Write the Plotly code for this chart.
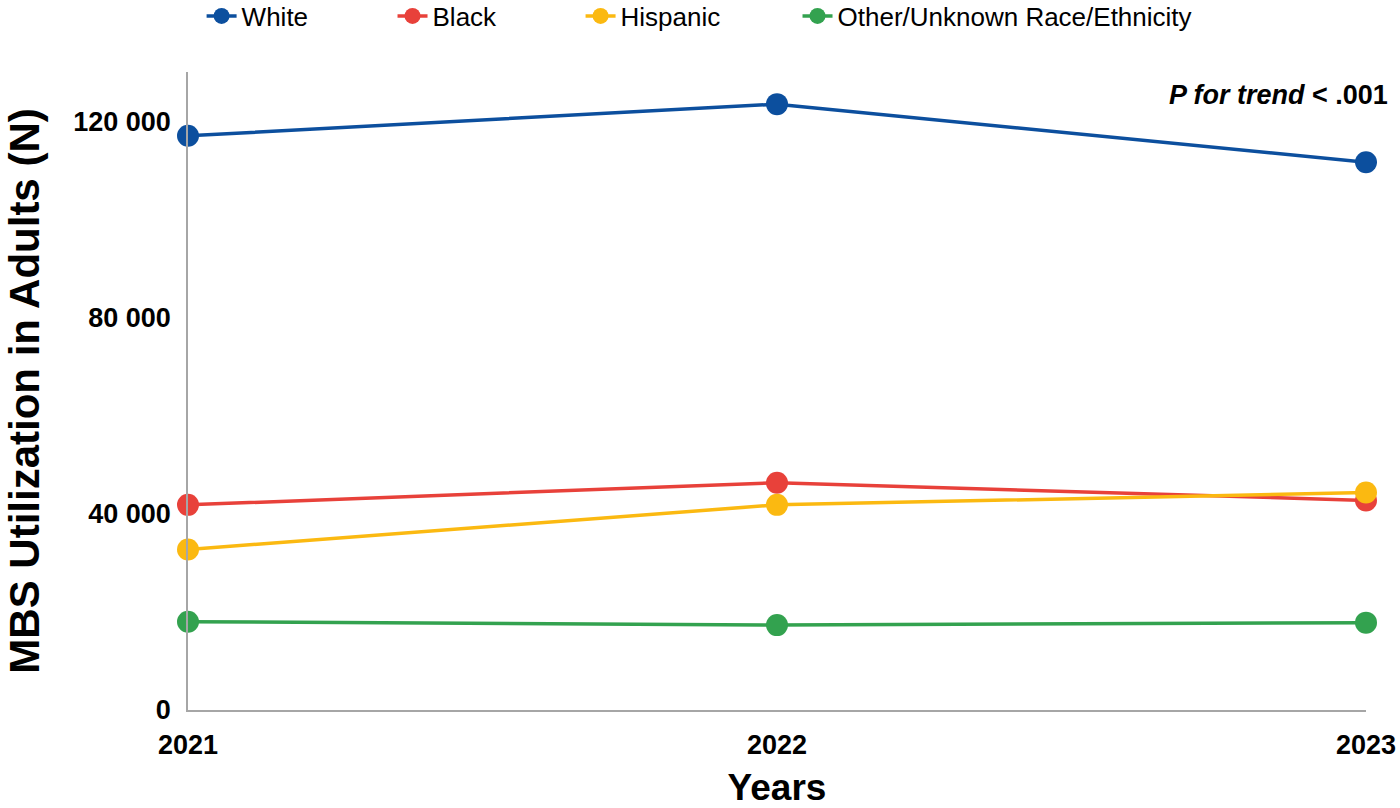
import plotly.graph_objects as go

years = [2021, 2022, 2023]
white = [117000, 123450, 111600]
black = [41800, 46300, 42700]
hispanic = [32700, 41800, 44300]
other = [18000, 17300, 17800]

series_names = ["White", "Black", "Hispanic", "Other/Unknown Race/Ethnicity"]
series_values = [white, black, hispanic, other]
series_colors = ["#0c4f9e", "#e8413a", "#fbb911", "#33a24f"]
legend_pad = [11, 11, 10, 0]  # invisible trailing spacing between legend entries

y_ticks = [0, 40000, 80000, 120000]

FONT = "Liberation Sans, Arial, sans-serif"

W, H = 1400, 808
L, R, T, B = 188, 34, 72, 98

fig = go.Figure()
for name, vals, col, pad in zip(series_names, series_values, series_colors, legend_pad):
    fig.add_trace(go.Scatter(
        x=years, y=vals, name=name + "\u00a0" * pad, mode="lines+markers",
        line=dict(color=col, width=3.5),
        marker=dict(color=col, size=22),
        cliponaxis=False,
    ))

fig.update_layout(
    width=W, height=H,
    paper_bgcolor="white", plot_bgcolor="white",
    margin=dict(l=L, r=R, t=T, b=B, autoexpand=False),
    separators=". ",
    font=dict(family=FONT, color="black"),
    showlegend=True,
    legend=dict(
        orientation="h", xref="container", yref="container",
        x=0.144, xanchor="left", y=1 - 16 / H, yanchor="middle",
        font=dict(size=26, family=FONT, color="black"),
        bgcolor="rgba(0,0,0,0)",
    ),
    xaxis=dict(
        range=[2021, 2023], tickvals=years, tickformat="d",
        showgrid=False, zeroline=False, automargin=False,
        showline=True, linecolor="#a6a6a6", linewidth=1.5,
        ticks="", ticklabelstandoff=10,
        tickfont=dict(size=27, family=FONT, color="black", weight="bold"),
        title=dict(text="<b>Years</b>", font=dict(size=37, family=FONT, color="black"), standoff=19),
    ),
    yaxis=dict(
        range=[0, 130000], tickvals=y_ticks, tickformat=",d",
        showgrid=False, zeroline=False, automargin=False,
        showline=True, linecolor="#a6a6a6", linewidth=1.5,
        ticks="", ticklabelstandoff=10,
        tickfont=dict(size=27, family=FONT, color="black", weight="bold"),
        title=dict(text="<b>MBS Utilization in Adults (N)</b>", font=dict(size=42, family=FONT, color="black"), standoff=21),
    ),
)

plot_w = W - L - R
plot_h = H - T - B
fig.add_annotation(
    xref="paper", yref="paper", x=(1390 - L) / plot_w, y=(H - B - 95) / plot_h,
    xanchor="right", yanchor="middle", showarrow=False,
    text="<b><i>P for trend</i> &lt; .001</b>",
    font=dict(size=27, family=FONT, color="black"),
)

fig.write_html(
    "out.html",
    config={"displayModeBar": False},
    default_width=f"{W}px", default_height=f"{H}px",
    post_script="document.body.style.margin='0';document.body.style.overflow='hidden';",
)
